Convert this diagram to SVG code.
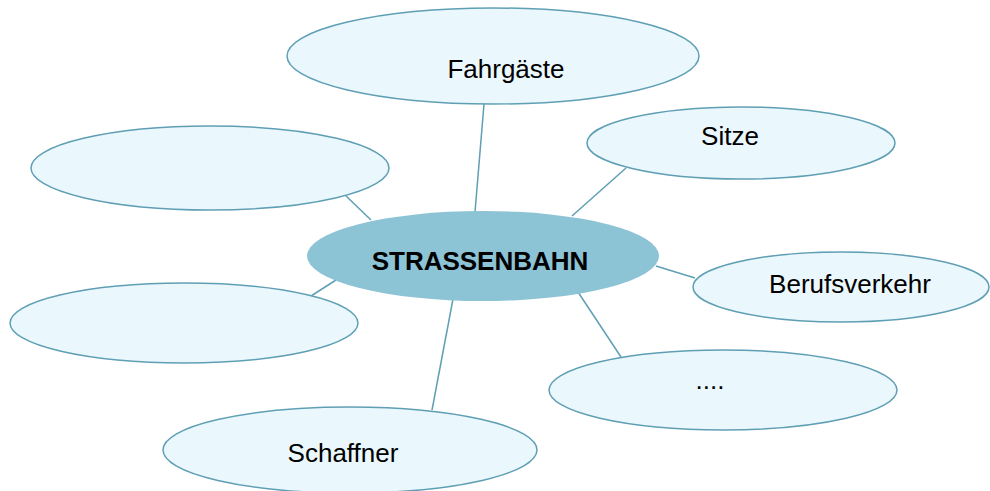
<svg xmlns="http://www.w3.org/2000/svg" width="990" height="491" viewBox="0 0 990 491">
<style>
.n{fill:#eaf7fd;stroke:#5f9fb4;stroke-width:1.5}
.c{fill:#8cc3d5;stroke:none}
.l{stroke:#5f9fb4;stroke-width:1.5;fill:none}
.t{font-family:"Liberation Sans",Arial,sans-serif;font-size:26px;fill:#000;text-anchor:middle}
.b{font-weight:bold}
</style>
<rect width="990" height="491" fill="#fff"/>
<g id="connectors">
<line class="l" x1="484" y1="104" x2="475" y2="212"/>
<line class="l" x1="626" y1="168" x2="572" y2="216"/>
<line class="l" x1="656" y1="266" x2="695" y2="278"/>
<line class="l" x1="578" y1="292" x2="621" y2="357"/>
<line class="l" x1="453" y1="299" x2="432" y2="410"/>
<line class="l" x1="345" y1="195" x2="371" y2="220"/>
<line class="l" x1="336" y1="280" x2="311" y2="296"/>
</g>
<g id="node-fahrgaste">
<ellipse class="n" cx="493" cy="56" rx="206" ry="48"/>
<text class="t" x="506" y="78">Fahrgäste</text>
</g>
<g id="node-empty-top">
<ellipse class="n" cx="210" cy="168" rx="179" ry="42"/>
</g>
<g id="node-sitze">
<ellipse class="n" cx="741" cy="143" rx="154" ry="36"/>
<text class="t" x="730" y="145">Sitze</text>
</g>
<g id="node-center">
<ellipse class="c" cx="483" cy="256" rx="176" ry="45"/>
<text class="t b" x="480" y="270">STRASSENBAHN</text>
</g>
<g id="node-berufsverkehr">
<ellipse class="n" cx="841" cy="287" rx="148" ry="35"/>
<text class="t" x="850" y="293">Berufsverkehr</text>
</g>
<g id="node-empty-bottom">
<ellipse class="n" cx="184" cy="323" rx="174" ry="40"/>
</g>
<g id="node-dots">
<ellipse class="n" cx="723" cy="390" rx="174" ry="40"/>
<text class="t" x="710" y="389">....</text>
</g>
<g id="node-schaffner">
<ellipse class="n" cx="350" cy="450" rx="187" ry="43"/>
<text class="t" x="343" y="462">Schaffner</text>
</g>
</svg>
